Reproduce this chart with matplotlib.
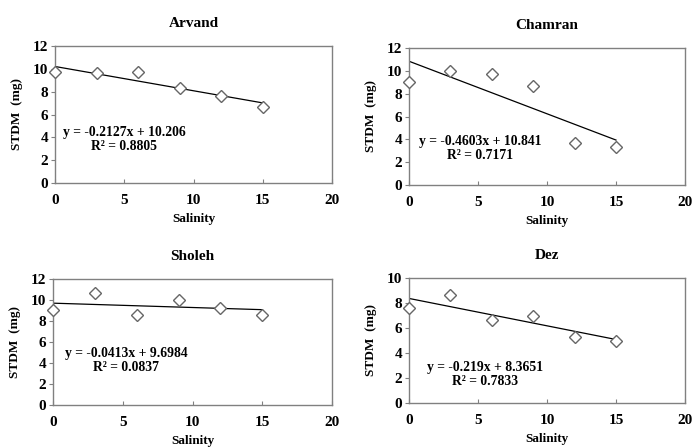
import matplotlib.pyplot as plt
import numpy as np

plt.rcParams['font.family'] = ['Liberation Serif', 'DejaVu Serif']
plt.rcParams['font.weight'] = 'bold'

salinity = [0, 3, 6, 9, 12, 15]

arvand = [9.69, 9.66, 9.69, 8.32, 7.62, 6.63]
chamran = [9.0, 10.02, 9.7, 8.71, 3.7, 3.35]
sholeh = [9.01, 10.67, 8.6, 9.97, 9.24, 8.6]
dez = [7.61, 8.67, 6.63, 6.98, 5.28, 4.96]

names = ["Arvand", "Chamran", "Sholeh", "Dez"]
slopes = [-0.2127, -0.4603, -0.0413, -0.219]
intercepts = [10.206, 10.841, 9.6984, 8.3651]
eq_labels = ["y = -0.2127x + 10.206\nR\u00b2 = 0.8805",
             "y = -0.4603x + 10.841\nR\u00b2 = 0.7171",
             "y = -0.0413x + 9.6984\nR\u00b2 = 0.0837",
             "y = -0.219x + 8.3651\nR\u00b2 = 0.7833"]
ymax = [12, 12, 12, 10]

W, H = 693, 447
# pixel boxes: left, right, top, bottom
boxes = [(55, 332, 46, 183), (409, 685, 48, 185),
         (53, 332, 279, 405), (409, 685, 278, 403)]
text_pos = [(5.0, 3.8), (5.15, 3.2), (5.25, 4.2), (5.5, 2.25)]

fig = plt.figure(figsize=(W / 100, H / 100), dpi=100)

series = [arvand, chamran, sholeh, dez]
for i in range(4):
    l, r, t, b = boxes[i]
    ax = fig.add_axes([l / W, 1 - b / H, (r - l) / W, (b - t) / H])
    ax.plot(salinity, series[i], linestyle='none', marker='D', markersize=6,
            markerfacecolor='white', markeredgecolor='#666666', markeredgewidth=1,
            clip_on=False, zorder=3)
    xf = np.array([0, 15])
    ax.plot(xf, slopes[i] * xf + intercepts[i], color='black', lw=0.9, zorder=2)
    ax.set_xlim(0, 20)
    ax.set_ylim(0, ymax[i])
    ax.set_xticks([0, 5, 10, 15, 20])
    ax.set_yticks(np.arange(0, ymax[i] + 1, 2))
    for s in ax.spines.values():
        s.set_color('#808080')
        s.set_linewidth(1)
    ax.tick_params(axis='y', direction='out', length=3, color='#808080', labelsize=11, pad=2)
    ax.tick_params(axis='x', direction='in', length=3, color='#808080', labelsize=11, pad=8)
    ax.set_title(names[i], fontsize=11, fontweight='bold', pad=14)
    ax.set_xlabel("Salinity", fontsize=9.5, fontweight='bold', labelpad=4)
    ax.set_ylabel("STDM  (mg)", fontsize=9.5, fontweight='bold', labelpad=7)
    tx, ty = text_pos[i]
    ax.text(tx, ty, eq_labels[i], ha='center', va='center', fontsize=9.8,
            fontweight='bold', linespacing=1.1)

fig.savefig("out.png", dpi=100)
